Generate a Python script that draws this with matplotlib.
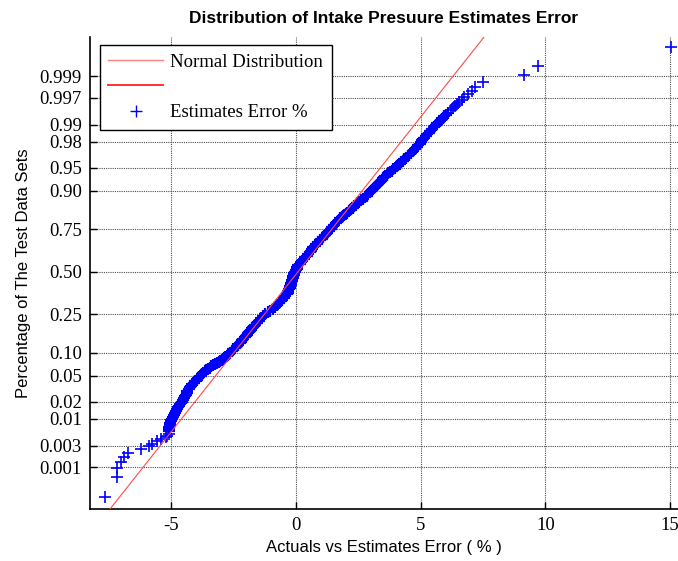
import math
import numpy as np
import matplotlib
matplotlib.use('Agg')
import matplotlib.pyplot as plt
from matplotlib.lines import Line2D

# sorted estimate errors (%) and their plotting probabilities
# lower tail (single points)
prob_low = [0.00019, 0.00058, 0.00096, 0.00135, 0.00173, 0.00212, 0.0025, 0.00288,
            0.00327, 0.00365, 0.00404, 0.00442, 0.0048, 0.0052]
err_low = [-7.65, -7.17, -7.17, -7.01, -6.88, -6.72, -6.22, -5.88,
           -5.75, -5.55, -5.39, -5.22, -5.15, -5.10]

# dense body of the sample
prob_body = [0.006, 0.0065, 0.007, 0.0075, 0.008, 0.0085, 0.009, 0.0095, 0.010,
             0.011, 0.012, 0.013, 0.014, 0.015, 0.016, 0.017, 0.018, 0.019, 0.020,
             0.0215, 0.023, 0.0245, 0.026, 0.028, 0.030, 0.032, 0.034, 0.036,
             0.038, 0.040, 0.042, 0.044, 0.046, 0.048, 0.050, 0.0525, 0.055,
             0.0575, 0.060, 0.0625, 0.065, 0.0675, 0.070, 0.0725, 0.075, 0.0775,
             0.080, 0.0825, 0.085, 0.0875, 0.090, 0.0925, 0.095, 0.0975, 0.100,
             0.105, 0.110, 0.115, 0.120, 0.125, 0.130, 0.135, 0.140, 0.145, 0.150,
             0.155, 0.160, 0.165, 0.170, 0.175, 0.180, 0.185, 0.190, 0.195, 0.200,
             0.21, 0.22, 0.23, 0.24, 0.25, 0.26, 0.27, 0.28, 0.29, 0.30, 0.31,
             0.32, 0.33, 0.34, 0.35, 0.36, 0.37, 0.38, 0.39, 0.40, 0.41, 0.42,
             0.43, 0.44, 0.45, 0.46, 0.47, 0.48, 0.49, 0.50, 0.51, 0.52, 0.53,
             0.54, 0.55, 0.56, 0.57, 0.58, 0.59, 0.60, 0.61, 0.62, 0.63, 0.64,
             0.65, 0.66, 0.67, 0.68, 0.69, 0.70, 0.71, 0.72, 0.73, 0.74, 0.75,
             0.76, 0.77, 0.78, 0.79, 0.80, 0.805, 0.81, 0.815, 0.82, 0.825, 0.83,
             0.835, 0.84, 0.845, 0.85, 0.855, 0.86, 0.865, 0.87, 0.875, 0.88,
             0.885, 0.89, 0.895, 0.90, 0.9025, 0.905, 0.9075, 0.91, 0.9125, 0.915,
             0.9175, 0.92, 0.9225, 0.925, 0.9275, 0.93, 0.9325, 0.935, 0.9375,
             0.94, 0.9425, 0.945, 0.9475, 0.95, 0.952, 0.954, 0.956, 0.958, 0.960,
             0.962, 0.964, 0.966, 0.968, 0.970, 0.972, 0.974, 0.9755, 0.977,
             0.9785, 0.980, 0.981, 0.982, 0.983, 0.984, 0.985, 0.986, 0.987,
             0.988, 0.989, 0.990, 0.9905, 0.991, 0.9915, 0.992, 0.9925, 0.993,
             0.9935, 0.994]
err_body = [-5.09, -5.08, -5.07, -5.055, -5.04, -5.025, -5.01, -4.995, -4.98,
            -4.94, -4.90, -4.85, -4.80, -4.76, -4.72, -4.67, -4.63, -4.59, -4.56,
            -4.51, -4.47, -4.44, -4.41, -4.38, -4.35, -4.30, -4.25, -4.20,
            -4.15, -4.10, -4.05, -3.98, -3.92, -3.87, -3.82, -3.77, -3.72,
            -3.66, -3.60, -3.53, -3.45, -3.38, -3.30, -3.22, -3.15, -3.08,
            -3.02, -2.97, -2.92, -2.87, -2.82, -2.77, -2.72, -2.67, -2.63,
            -2.56, -2.50, -2.43, -2.36, -2.30, -2.24, -2.19, -2.14, -2.10, -2.05,
            -2.00, -1.96, -1.92, -1.88, -1.84, -1.80, -1.76, -1.72, -1.67, -1.63,
            -1.56, -1.48, -1.41, -1.33, -1.22, -1.11, -1.02, -0.93, -0.85, -0.77, -0.69,
            -0.61, -0.54, -0.48, -0.42, -0.37, -0.33, -0.30, -0.27, -0.24, -0.22, -0.20,
            -0.18, -0.16, -0.14, -0.12, -0.10, -0.08, -0.055, -0.03, 0.00, 0.03, 0.06,
            0.10, 0.15, 0.21, 0.26, 0.32, 0.38, 0.44, 0.50, 0.55, 0.60, 0.65,
            0.70, 0.76, 0.82, 0.88, 0.95, 1.03, 1.10, 1.18, 1.25, 1.33, 1.40,
            1.47, 1.53, 1.60, 1.69, 1.78, 1.84, 1.90, 1.95, 2.01, 2.06, 2.12,
            2.17, 2.22, 2.28, 2.34, 2.40, 2.47, 2.54, 2.62, 2.70, 2.78,
            2.84, 2.90, 2.96, 3.02, 3.055, 3.09, 3.125, 3.16, 3.20, 3.24,
            3.28, 3.32, 3.365, 3.41, 3.455, 3.50, 3.545, 3.59, 3.645,
            3.70, 3.77, 3.84, 3.91, 3.98, 4.04, 4.10, 4.16, 4.22, 4.28,
            4.34, 4.41, 4.48, 4.55, 4.62, 4.70, 4.78, 4.84, 4.90,
            4.96, 5.02, 5.06, 5.10, 5.15, 5.20, 5.26, 5.32, 5.39,
            5.46, 5.54, 5.62, 5.67, 5.72, 5.78, 5.84, 5.90, 5.96,
            6.03, 6.10]

# upper tail (single points)
prob_high = [0.99481, 0.99519, 0.99558, 0.99596, 0.99635, 0.99673, 0.99712,
             0.9975, 0.99788, 0.99827, 0.99865, 0.99904, 0.99942, 0.99981]
err_high = [6.22, 6.30, 6.40, 6.45, 6.55, 6.67, 6.73,
            6.90, 7.06, 7.20, 7.49, 9.16, 9.72, 15.03]

# fitted normal reference line
fit_mu = 0.09
fit_sigma = 2.01

ytick_vals = [0.001, 0.003, 0.01, 0.02, 0.05, 0.10, 0.25, 0.50, 0.75, 0.90,
              0.95, 0.98, 0.99, 0.997, 0.999]
ytick_labels = ['0.001', '0.003', '0.01', '0.02', '0.05', '0.10', '0.25', '0.50',
                '0.75', '0.90', '0.95', '0.98', '0.99', '0.997', '0.999']
xtick_vals = [-5, 0, 5, 10, 15]


def ppf(p):
    # Acklam's approximation of the inverse normal cdf
    p = np.clip(np.asarray(p, dtype=float), 1e-12, 1 - 1e-12)
    a = [-3.969683028665376e+01, 2.209460984245205e+02, -2.759285104469687e+02,
         1.383577518672690e+02, -3.066479806614716e+01, 2.506628277459239e+00]
    b = [-5.447609879822406e+01, 1.615858368580409e+02, -1.556989798598866e+02,
         6.680131188771972e+01, -1.328068155288572e+01]
    c = [-7.784894002430293e-03, -3.223964580411365e-01, -2.400758277161838e+00,
         -2.549732539343734e+00, 4.374664141464968e+00, 2.938163982698783e+00]
    d = [7.784695709041462e-03, 3.224671290700398e-01, 2.445134137142996e+00,
         3.754408661907416e+00]
    plow = 0.02425
    out = np.zeros_like(p)
    lo = p < plow
    hi = p > 1 - plow
    mid = ~(lo | hi)
    q = np.sqrt(-2 * np.log(p[lo]))
    out[lo] = (((((c[0]*q+c[1])*q+c[2])*q+c[3])*q+c[4])*q+c[5]) / \
              ((((d[0]*q+d[1])*q+d[2])*q+d[3])*q+1)
    q = np.sqrt(-2 * np.log(1 - p[hi]))
    out[hi] = -(((((c[0]*q+c[1])*q+c[2])*q+c[3])*q+c[4])*q+c[5]) / \
               ((((d[0]*q+d[1])*q+d[2])*q+d[3])*q+1)
    q = p[mid] - 0.5
    r = q * q
    out[mid] = (((((a[0]*r+a[1])*r+a[2])*r+a[3])*r+a[4])*r+a[5])*q / \
               (((((b[0]*r+b[1])*r+b[2])*r+b[3])*r+b[4])*r+1)
    return out


_erf = np.vectorize(math.erf)


def cdf(z):
    return 0.5 * (1 + _erf(np.asarray(z, dtype=float) / math.sqrt(2)))


serif = ['Liberation Serif', 'DejaVu Serif']
sans = ['Liberation Sans', 'DejaVu Sans']

fig = plt.figure(figsize=(6.78, 5.61), dpi=100)
ax = fig.add_axes([90/678, 52/561, 588/678, 472/561])
ax.set_yscale('function', functions=(ppf, cdf))

ymin, ymax = cdf(-3.75), cdf(3.71)
ax.set_ylim(ymin, ymax)
ax.set_xlim(-8.25, 15.32)

ax.plot(err_low + err_high, prob_low + prob_high, '+', color='b', ms=8.5, mew=1.2, zorder=3)
ax.plot(err_body, prob_body, '+', color='b', ms=9, mew=1.6, zorder=3)

line_p = np.array([ymin, ymax])
ax.plot(fit_mu + fit_sigma * ppf(line_p), line_p, '-', color='#ff4a4a', lw=0.8, zorder=4)

ax.set_yticks(ytick_vals)
ax.set_yticklabels(ytick_labels, fontfamily=serif, fontsize=13.5)
ax.yaxis.set_minor_locator(matplotlib.ticker.NullLocator())
ax.set_xticks(xtick_vals)
ax.set_xticklabels([str(v) for v in xtick_vals], fontfamily=serif, fontsize=13.5)
ax.tick_params(direction='in', length=5, width=1, pad=6)

ax.grid(True, color='0.3', linestyle=(0, (1, 1)), lw=0.8)
ax.set_axisbelow(True)
ax.spines['top'].set_visible(False)
ax.spines['right'].set_visible(False)
ax.spines['left'].set_linewidth(1.2)
ax.spines['bottom'].set_linewidth(1.2)

ax.set_title('Distribution of Intake Presuure Estimates Error',
             fontfamily=['Liberation Sans Narrow', 'Liberation Sans'],
             fontweight='bold', fontsize=12.5, pad=10)
ax.set_xlabel('Actuals vs Estimates Error ( % )', fontfamily=sans, fontsize=12, labelpad=4)
ax.set_ylabel('Percentage of The Test Data Sets', fontfamily=sans, fontsize=12, labelpad=6)

h1 = Line2D([], [], color='#ff8080', lw=1.0)
h2 = Line2D([], [], color='#ff2020', lw=1.3)
h3 = Line2D([], [], color='b', marker='+', ls='none', ms=8.5, mew=1.0)
leg = ax.legend([h1, h2, h3], ['Normal Distribution', '', 'Estimates Error %'],
                loc='upper left', bbox_to_anchor=(10/588, 464/472), borderaxespad=0,
                prop={'family': serif, 'size': 13.5}, handlelength=2.9,
                handletextpad=0.4, borderpad=0.45,
                labelspacing=0.44, fancybox=False, framealpha=1, edgecolor='black')
leg.get_frame().set_linewidth(1.0)

fig.savefig('out.png', dpi=100)
